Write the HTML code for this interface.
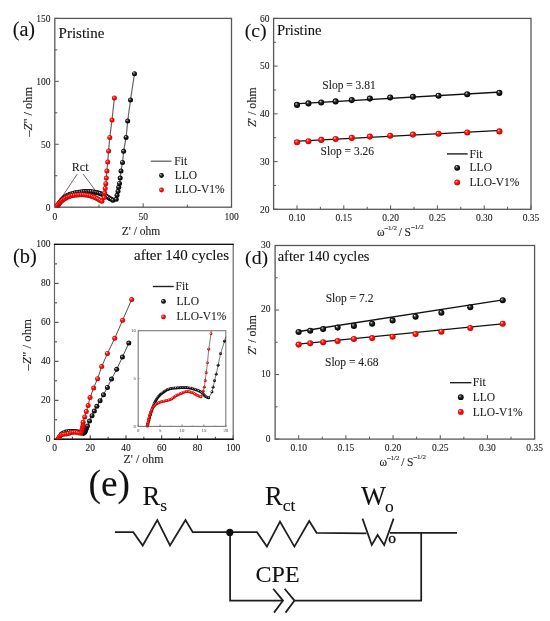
<!DOCTYPE html><html><head><meta charset="utf-8"><style>html,body{margin:0;padding:0;background:#fff;}svg{display:block;will-change:transform;}</style></head><body>
<svg width="550" height="621" viewBox="0 0 550 621" style='font-family:"Liberation Serif", serif'>
<defs>
<radialGradient id="gb" cx="0.5" cy="0.5" r="0.55" fx="0.33" fy="0.3">
<stop offset="0" stop-color="#f0f0f0"/><stop offset="0.16" stop-color="#909090"/><stop offset="0.4" stop-color="#2a2a2a"/><stop offset="0.75" stop-color="#080808"/><stop offset="1" stop-color="#000"/></radialGradient>
<radialGradient id="gr" cx="0.5" cy="0.5" r="0.55" fx="0.33" fy="0.3">
<stop offset="0" stop-color="#fff4f0"/><stop offset="0.16" stop-color="#ff8a80"/><stop offset="0.4" stop-color="#ff1a10"/><stop offset="0.75" stop-color="#e80000"/><stop offset="1" stop-color="#b00000"/></radialGradient>
</defs>
<rect width="550" height="621" fill="#fff"/>
<line x1="54.8" y1="207.2" x2="54.8" y2="203.2" stroke="#585858" stroke-width="1.0" />
<text x="54.8" y="219.5" font-size="9.5" text-anchor="middle" fill="#222" stroke="#222" stroke-width="0.1" >0</text>
<line x1="143.15" y1="207.2" x2="143.15" y2="203.2" stroke="#585858" stroke-width="1.0" />
<text x="143.15" y="219.5" font-size="9.5" text-anchor="middle" fill="#222" stroke="#222" stroke-width="0.1" >50</text>
<line x1="231.5" y1="207.2" x2="231.5" y2="203.2" stroke="#585858" stroke-width="1.0" />
<text x="231.5" y="219.5" font-size="9.5" text-anchor="middle" fill="#222" stroke="#222" stroke-width="0.1" >100</text>
<line x1="98.97" y1="207.2" x2="98.97" y2="204.7" stroke="#585858" stroke-width="1.0" />
<line x1="187.32" y1="207.2" x2="187.32" y2="204.7" stroke="#585858" stroke-width="1.0" />
<line x1="54.8" y1="207.2" x2="58.8" y2="207.2" stroke="#585858" stroke-width="1.0" />
<text x="50.5" y="210.5" font-size="9.5" text-anchor="end" fill="#222" stroke="#222" stroke-width="0.1" >0</text>
<line x1="54.8" y1="144.27" x2="58.8" y2="144.27" stroke="#585858" stroke-width="1.0" />
<text x="50.5" y="147.57" font-size="9.5" text-anchor="end" fill="#222" stroke="#222" stroke-width="0.1" >50</text>
<line x1="54.8" y1="81.33" x2="58.8" y2="81.33" stroke="#585858" stroke-width="1.0" />
<text x="50.5" y="84.63" font-size="9.5" text-anchor="end" fill="#222" stroke="#222" stroke-width="0.1" >100</text>
<line x1="54.8" y1="18.4" x2="58.8" y2="18.4" stroke="#585858" stroke-width="1.0" />
<text x="50.5" y="21.7" font-size="9.5" text-anchor="end" fill="#222" stroke="#222" stroke-width="0.1" >150</text>
<line x1="54.8" y1="175.73" x2="57.3" y2="175.73" stroke="#585858" stroke-width="1.0" />
<line x1="54.8" y1="112.8" x2="57.3" y2="112.8" stroke="#585858" stroke-width="1.0" />
<line x1="54.8" y1="49.87" x2="57.3" y2="49.87" stroke="#585858" stroke-width="1.0" />
<rect x="54.8" y="18.4" width="176.7" height="188.8" fill="none" stroke="#585858" stroke-width="1.3"/>
<clipPath id="ca"><rect x="54.8" y="18.4" width="176.7" height="188.8"/></clipPath>
<text x="12.7" y="36.2" font-size="20.2" text-anchor="start" fill="#111" stroke="#111" stroke-width="0.1" >(a)</text>
<text x="58.6" y="37.8" font-size="15" text-anchor="start" fill="#111" stroke="#111" stroke-width="0.1" >Pristine</text>
<text x="0" y="0" font-size="12.4" text-anchor="middle" fill="#222" stroke="#222" stroke-width="0.1" transform="translate(32,111.8) rotate(-90)">&#8211;<tspan font-style="italic">Z</tspan>&quot; / ohm</text>
<text x="141" y="234.8" font-size="11.5" text-anchor="middle" fill="#222" stroke="#222" stroke-width="0.1" >Z' / ohm</text>
<text x="80.2" y="170.5" font-size="12" text-anchor="middle" fill="#222" stroke="#222" stroke-width="0.1" >Rct</text>
<line x1="77.3" y1="174" x2="59" y2="201.4" stroke="#444" stroke-width="0.8" />
<line x1="83.2" y1="174" x2="96" y2="191.4" stroke="#444" stroke-width="0.8" />
<g clip-path="url(#ca)">
<polyline points="56.8,208 58.3,204.6 60.3,201.5 63,198.6 66.5,196 71,193.9 76.2,192.6 82,191.8 88,191.5 94,192 100,193.5 106,196 110,198.5 114.2,200.9 116.2,199.2 117,195.2 118,191.3 118.7,187.3 119.5,183.4 120.2,178.1 121,171 122.5,162.5 123.6,151.3 126.1,137.4 127.7,121 130.5,100 134.5,73.7" fill="none" stroke="#666" stroke-width="1.2" stroke-linejoin="round" />
<circle cx="56.8" cy="208" r="2.5" fill="url(#gb)"/>
<circle cx="57.49" cy="206.34" r="2.5" fill="url(#gb)"/>
<circle cx="58.25" cy="204.7" r="2.5" fill="url(#gb)"/>
<circle cx="59.15" cy="203.15" r="2.5" fill="url(#gb)"/>
<circle cx="60.17" cy="201.67" r="2.5" fill="url(#gb)"/>
<circle cx="61.32" cy="200.28" r="2.5" fill="url(#gb)"/>
<circle cx="62.57" cy="198.99" r="2.5" fill="url(#gb)"/>
<circle cx="63.93" cy="197.81" r="2.5" fill="url(#gb)"/>
<circle cx="65.37" cy="196.73" r="2.5" fill="url(#gb)"/>
<circle cx="66.9" cy="195.78" r="2.5" fill="url(#gb)"/>
<circle cx="68.49" cy="194.94" r="2.5" fill="url(#gb)"/>
<circle cx="70.14" cy="194.22" r="2.5" fill="url(#gb)"/>
<circle cx="71.84" cy="193.63" r="2.5" fill="url(#gb)"/>
<circle cx="73.57" cy="193.16" r="2.5" fill="url(#gb)"/>
<circle cx="75.33" cy="192.77" r="2.5" fill="url(#gb)"/>
<circle cx="77.1" cy="192.44" r="2.5" fill="url(#gb)"/>
<circle cx="78.88" cy="192.16" r="2.5" fill="url(#gb)"/>
<circle cx="80.67" cy="191.94" r="2.5" fill="url(#gb)"/>
<circle cx="82.46" cy="191.76" r="2.5" fill="url(#gb)"/>
<circle cx="84.25" cy="191.62" r="2.5" fill="url(#gb)"/>
<circle cx="86.05" cy="191.52" r="2.5" fill="url(#gb)"/>
<circle cx="87.85" cy="191.5" r="2.5" fill="url(#gb)"/>
<circle cx="89.65" cy="191.55" r="2.5" fill="url(#gb)"/>
<circle cx="91.44" cy="191.68" r="2.5" fill="url(#gb)"/>
<circle cx="93.23" cy="191.88" r="2.5" fill="url(#gb)"/>
<circle cx="95.01" cy="192.18" r="2.5" fill="url(#gb)"/>
<circle cx="96.76" cy="192.57" r="2.5" fill="url(#gb)"/>
<circle cx="98.5" cy="193.04" r="2.5" fill="url(#gb)"/>
<circle cx="100.22" cy="193.58" r="2.5" fill="url(#gb)"/>
<circle cx="101.91" cy="194.2" r="2.5" fill="url(#gb)"/>
<circle cx="103.57" cy="194.88" r="2.5" fill="url(#gb)"/>
<circle cx="105.21" cy="195.62" r="2.5" fill="url(#gb)"/>
<circle cx="106.82" cy="196.44" r="2.5" fill="url(#gb)"/>
<circle cx="108.33" cy="197.41" r="2.5" fill="url(#gb)"/>
<circle cx="109.84" cy="198.4" r="2.5" fill="url(#gb)"/>
<circle cx="111.39" cy="199.31" r="2.5" fill="url(#gb)"/>
<circle cx="112.95" cy="200.2" r="2.5" fill="url(#gb)"/>
<circle cx="116.2" cy="199.2" r="2.5" fill="url(#gb)"/>
<circle cx="117" cy="195.2" r="2.5" fill="url(#gb)"/>
<circle cx="118" cy="191.3" r="2.5" fill="url(#gb)"/>
<circle cx="118.7" cy="187.3" r="2.5" fill="url(#gb)"/>
<circle cx="119.5" cy="183.4" r="2.5" fill="url(#gb)"/>
<circle cx="120.2" cy="178.1" r="2.5" fill="url(#gb)"/>
<circle cx="121" cy="171" r="2.5" fill="url(#gb)"/>
<circle cx="122.5" cy="162.5" r="2.5" fill="url(#gb)"/>
<circle cx="123.6" cy="151.3" r="2.5" fill="url(#gb)"/>
<circle cx="126.1" cy="137.4" r="2.5" fill="url(#gb)"/>
<circle cx="127.7" cy="121" r="2.5" fill="url(#gb)"/>
<circle cx="130.5" cy="100" r="2.5" fill="url(#gb)"/>
<circle cx="134.5" cy="73.7" r="2.5" fill="url(#gb)"/>
<polyline points="55.5,207.8 57.5,205.2 59.5,203 62,200.5 65.5,198.2 69.5,196.4 74,195.3 80,194.8 86,195 91,196 96,198 100,200.3 102.4,201.4 104.1,197.5 104.7,193 105.2,188.5 105.8,183.7 106.3,178.1 106.9,171 107.7,162 108.6,150.9 109.8,137.4 112,120 114.4,98" fill="none" stroke="#666" stroke-width="1.2" stroke-linejoin="round" />
<circle cx="55.5" cy="207.8" r="2.5" fill="url(#gr)"/>
<circle cx="56.58" cy="206.36" r="2.5" fill="url(#gr)"/>
<circle cx="57.71" cy="204.96" r="2.5" fill="url(#gr)"/>
<circle cx="58.91" cy="203.62" r="2.5" fill="url(#gr)"/>
<circle cx="60.14" cy="202.31" r="2.5" fill="url(#gr)"/>
<circle cx="61.4" cy="201.02" r="2.5" fill="url(#gr)"/>
<circle cx="62.8" cy="199.89" r="2.5" fill="url(#gr)"/>
<circle cx="64.3" cy="198.9" r="2.5" fill="url(#gr)"/>
<circle cx="65.87" cy="198.01" r="2.5" fill="url(#gr)"/>
<circle cx="67.48" cy="197.21" r="2.5" fill="url(#gr)"/>
<circle cx="69.14" cy="196.53" r="2.5" fill="url(#gr)"/>
<circle cx="70.86" cy="195.97" r="2.5" fill="url(#gr)"/>
<circle cx="72.61" cy="195.55" r="2.5" fill="url(#gr)"/>
<circle cx="74.38" cy="195.25" r="2.5" fill="url(#gr)"/>
<circle cx="76.17" cy="195.04" r="2.5" fill="url(#gr)"/>
<circle cx="77.96" cy="194.89" r="2.5" fill="url(#gr)"/>
<circle cx="79.76" cy="194.81" r="2.5" fill="url(#gr)"/>
<circle cx="81.56" cy="194.78" r="2.5" fill="url(#gr)"/>
<circle cx="83.36" cy="194.82" r="2.5" fill="url(#gr)"/>
<circle cx="85.16" cy="194.92" r="2.5" fill="url(#gr)"/>
<circle cx="86.94" cy="195.12" r="2.5" fill="url(#gr)"/>
<circle cx="88.72" cy="195.42" r="2.5" fill="url(#gr)"/>
<circle cx="90.47" cy="195.85" r="2.5" fill="url(#gr)"/>
<circle cx="92.18" cy="196.39" r="2.5" fill="url(#gr)"/>
<circle cx="93.86" cy="197.04" r="2.5" fill="url(#gr)"/>
<circle cx="95.51" cy="197.77" r="2.5" fill="url(#gr)"/>
<circle cx="97.11" cy="198.59" r="2.5" fill="url(#gr)"/>
<circle cx="98.65" cy="199.51" r="2.5" fill="url(#gr)"/>
<circle cx="100.21" cy="200.41" r="2.5" fill="url(#gr)"/>
<circle cx="101.85" cy="201.16" r="2.5" fill="url(#gr)"/>
<circle cx="104.1" cy="197.5" r="2.5" fill="url(#gr)"/>
<circle cx="104.7" cy="193" r="2.5" fill="url(#gr)"/>
<circle cx="105.2" cy="188.5" r="2.5" fill="url(#gr)"/>
<circle cx="105.8" cy="183.7" r="2.5" fill="url(#gr)"/>
<circle cx="106.3" cy="178.1" r="2.5" fill="url(#gr)"/>
<circle cx="106.9" cy="171" r="2.5" fill="url(#gr)"/>
<circle cx="107.7" cy="162" r="2.5" fill="url(#gr)"/>
<circle cx="108.6" cy="150.9" r="2.5" fill="url(#gr)"/>
<circle cx="109.8" cy="137.4" r="2.5" fill="url(#gr)"/>
<circle cx="112" cy="120" r="2.5" fill="url(#gr)"/>
<circle cx="114.4" cy="98" r="2.5" fill="url(#gr)"/>
</g>
<line x1="150.7" y1="161.2" x2="171.5" y2="161.2" stroke="#555" stroke-width="1.2" />
<text x="174.3" y="165" font-size="11.5" text-anchor="start" fill="#222" stroke="#222" stroke-width="0.1" >Fit</text>
<circle cx="161.5" cy="175.5" r="2.4" fill="url(#gb)"/>
<text x="174.8" y="179" font-size="11.5" text-anchor="start" fill="#222" stroke="#222" stroke-width="0.1" >LLO</text>
<circle cx="161.5" cy="190" r="2.4" fill="url(#gr)"/>
<text x="174.8" y="193.3" font-size="11.5" text-anchor="start" fill="#222" stroke="#222" stroke-width="0.1" >LLO-V1%</text>
<line x1="54.5" y1="439.3" x2="54.5" y2="435.3" stroke="#333" stroke-width="1.0" />
<text x="54.5" y="450.7" font-size="9.5" text-anchor="middle" fill="#222" stroke="#222" stroke-width="0.1" >0</text>
<line x1="90.24" y1="439.3" x2="90.24" y2="435.3" stroke="#333" stroke-width="1.0" />
<text x="90.24" y="450.7" font-size="9.5" text-anchor="middle" fill="#222" stroke="#222" stroke-width="0.1" >20</text>
<line x1="125.98" y1="439.3" x2="125.98" y2="435.3" stroke="#333" stroke-width="1.0" />
<text x="125.98" y="450.7" font-size="9.5" text-anchor="middle" fill="#222" stroke="#222" stroke-width="0.1" >40</text>
<line x1="161.72" y1="439.3" x2="161.72" y2="435.3" stroke="#333" stroke-width="1.0" />
<text x="161.72" y="450.7" font-size="9.5" text-anchor="middle" fill="#222" stroke="#222" stroke-width="0.1" >60</text>
<line x1="197.46" y1="439.3" x2="197.46" y2="435.3" stroke="#333" stroke-width="1.0" />
<text x="197.46" y="450.7" font-size="9.5" text-anchor="middle" fill="#222" stroke="#222" stroke-width="0.1" >80</text>
<line x1="233.2" y1="439.3" x2="233.2" y2="435.3" stroke="#333" stroke-width="1.0" />
<text x="233.2" y="450.7" font-size="9.5" text-anchor="middle" fill="#222" stroke="#222" stroke-width="0.1" >100</text>
<line x1="72.37" y1="439.3" x2="72.37" y2="436.8" stroke="#333" stroke-width="1.0" />
<line x1="108.11" y1="439.3" x2="108.11" y2="436.8" stroke="#333" stroke-width="1.0" />
<line x1="143.85" y1="439.3" x2="143.85" y2="436.8" stroke="#333" stroke-width="1.0" />
<line x1="179.59" y1="439.3" x2="179.59" y2="436.8" stroke="#333" stroke-width="1.0" />
<line x1="215.33" y1="439.3" x2="215.33" y2="436.8" stroke="#333" stroke-width="1.0" />
<line x1="54.5" y1="439.3" x2="58.5" y2="439.3" stroke="#333" stroke-width="1.0" />
<text x="50.5" y="441.9" font-size="9.5" text-anchor="end" fill="#222" stroke="#222" stroke-width="0.1" >0</text>
<line x1="54.5" y1="400.32" x2="58.5" y2="400.32" stroke="#333" stroke-width="1.0" />
<text x="50.5" y="402.92" font-size="9.5" text-anchor="end" fill="#222" stroke="#222" stroke-width="0.1" >20</text>
<line x1="54.5" y1="361.34" x2="58.5" y2="361.34" stroke="#333" stroke-width="1.0" />
<text x="50.5" y="363.94" font-size="9.5" text-anchor="end" fill="#222" stroke="#222" stroke-width="0.1" >40</text>
<line x1="54.5" y1="322.36" x2="58.5" y2="322.36" stroke="#333" stroke-width="1.0" />
<text x="50.5" y="324.96" font-size="9.5" text-anchor="end" fill="#222" stroke="#222" stroke-width="0.1" >60</text>
<line x1="54.5" y1="283.38" x2="58.5" y2="283.38" stroke="#333" stroke-width="1.0" />
<text x="50.5" y="285.98" font-size="9.5" text-anchor="end" fill="#222" stroke="#222" stroke-width="0.1" >80</text>
<line x1="54.5" y1="244.4" x2="58.5" y2="244.4" stroke="#333" stroke-width="1.0" />
<text x="50.5" y="247" font-size="9.5" text-anchor="end" fill="#222" stroke="#222" stroke-width="0.1" >100</text>
<line x1="54.5" y1="419.81" x2="57" y2="419.81" stroke="#333" stroke-width="1.0" />
<line x1="54.5" y1="380.83" x2="57" y2="380.83" stroke="#333" stroke-width="1.0" />
<line x1="54.5" y1="341.85" x2="57" y2="341.85" stroke="#333" stroke-width="1.0" />
<line x1="54.5" y1="302.87" x2="57" y2="302.87" stroke="#333" stroke-width="1.0" />
<line x1="54.5" y1="263.89" x2="57" y2="263.89" stroke="#333" stroke-width="1.0" />
<rect x="54.5" y="244.4" width="178.7" height="194.9" fill="none" stroke="#666" stroke-width="1.2"/>
<line x1="53.9" y1="244.4" x2="233.8" y2="244.4" stroke="#111" stroke-width="1.3" />
<line x1="53.9" y1="439.3" x2="233.8" y2="439.3" stroke="#111" stroke-width="1.5" />
<clipPath id="cb"><rect x="54.5" y="244.4" width="178.7" height="194.9"/></clipPath>
<text x="12.9" y="263" font-size="20.4" text-anchor="start" fill="#111" stroke="#111" stroke-width="0.1" >(b)</text>
<text x="229" y="260" font-size="15" text-anchor="end" fill="#111" stroke="#111" stroke-width="0.1" >after 140 cycles</text>
<text x="0" y="0" font-size="12.9" text-anchor="middle" fill="#222" stroke="#222" stroke-width="0.1" transform="translate(31.2,344.8) rotate(-90)">&#8211;<tspan font-style="italic">Z</tspan>&quot; / ohm</text>
<text x="143.5" y="463.3" font-size="11.9" text-anchor="middle" fill="#222" stroke="#222" stroke-width="0.1" >Z' / ohm</text>
<g clip-path="url(#cb)">
<polyline points="58.25,439.05 59.34,437.06 60.43,435.44 61.52,434.17 62.97,433.08 64.78,432.3 66.94,431.72 69.83,431.47 72.73,431.39 75.59,431.47 78.09,431.84 80.32,432.36 81.77,433.08 82.86,433.45 83.95,433.45 85.06,432.36 86.49,428.41 87.92,425.15 89.53,420.98 92.03,415.72 94.35,411.04 96.85,406.36 100.07,400.71 103.46,394.86 107.4,387.46 111.51,379.08 116.69,369.33 122.41,357.05 128.84,343.02" fill="none" stroke="#3a3a3a" stroke-width="0.9" stroke-linejoin="round" />
<circle cx="58.25" cy="439.05" r="2.4" fill="url(#gb)"/>
<circle cx="59.11" cy="437.46" r="2.4" fill="url(#gb)"/>
<circle cx="60.07" cy="435.94" r="2.4" fill="url(#gb)"/>
<circle cx="61.18" cy="434.52" r="2.4" fill="url(#gb)"/>
<circle cx="62.54" cy="433.35" r="2.4" fill="url(#gb)"/>
<circle cx="64.14" cy="432.54" r="2.4" fill="url(#gb)"/>
<circle cx="65.84" cy="431.96" r="2.4" fill="url(#gb)"/>
<circle cx="67.61" cy="431.63" r="2.4" fill="url(#gb)"/>
<circle cx="69.4" cy="431.49" r="2.4" fill="url(#gb)"/>
<circle cx="71.2" cy="431.41" r="2.4" fill="url(#gb)"/>
<circle cx="73" cy="431.39" r="2.4" fill="url(#gb)"/>
<circle cx="74.8" cy="431.42" r="2.4" fill="url(#gb)"/>
<circle cx="76.59" cy="431.58" r="2.4" fill="url(#gb)"/>
<circle cx="78.37" cy="431.89" r="2.4" fill="url(#gb)"/>
<circle cx="80.12" cy="432.3" r="2.4" fill="url(#gb)"/>
<circle cx="81.74" cy="433.07" r="2.4" fill="url(#gb)"/>
<circle cx="83.47" cy="433.55" r="2.4" fill="url(#gb)"/>
<circle cx="84.91" cy="432.62" r="2.4" fill="url(#gb)"/>
<circle cx="85.6" cy="430.96" r="2.4" fill="url(#gb)"/>
<circle cx="86.18" cy="429.26" r="2.4" fill="url(#gb)"/>
<circle cx="86.83" cy="427.58" r="2.4" fill="url(#gb)"/>
<circle cx="87.56" cy="425.93" r="2.4" fill="url(#gb)"/>
<circle cx="89.53" cy="420.98" r="2.5" fill="url(#gb)"/>
<circle cx="92.03" cy="415.72" r="2.5" fill="url(#gb)"/>
<circle cx="94.35" cy="411.04" r="2.5" fill="url(#gb)"/>
<circle cx="96.85" cy="406.36" r="2.5" fill="url(#gb)"/>
<circle cx="100.07" cy="400.71" r="2.5" fill="url(#gb)"/>
<circle cx="103.46" cy="394.86" r="2.5" fill="url(#gb)"/>
<circle cx="107.4" cy="387.46" r="2.5" fill="url(#gb)"/>
<circle cx="111.51" cy="379.08" r="2.5" fill="url(#gb)"/>
<circle cx="116.69" cy="369.33" r="2.5" fill="url(#gb)"/>
<circle cx="122.41" cy="357.05" r="2.5" fill="url(#gb)"/>
<circle cx="128.84" cy="343.02" r="2.5" fill="url(#gb)"/>
<polyline points="58.25,439.22 58.97,437.43 59.68,436.34 60.75,435.27 62.54,434.54 64.78,434.17 67.67,433.82 69.83,433.08 72.01,432.56 74.16,432.19 76.3,432.36 78.45,432.91 79.96,433.28 81.05,432.91 81.84,430.2 82.56,426.96 83.27,423.71 83.09,422.15 84.7,416.89 86.31,411.62 88.1,405.39 90.06,397.59 93.64,388.04 97.57,378.69 101.68,366.6 107.4,353.54 114.72,338.34 122.58,320.22 131.7,299.56" fill="none" stroke="#3a3a3a" stroke-width="0.9" stroke-linejoin="round" />
<circle cx="58.25" cy="439.22" r="2.4" fill="url(#gr)"/>
<circle cx="58.91" cy="437.55" r="2.4" fill="url(#gr)"/>
<circle cx="59.91" cy="436.06" r="2.4" fill="url(#gr)"/>
<circle cx="61.32" cy="434.97" r="2.4" fill="url(#gr)"/>
<circle cx="63.03" cy="434.43" r="2.4" fill="url(#gr)"/>
<circle cx="64.81" cy="434.17" r="2.4" fill="url(#gr)"/>
<circle cx="66.6" cy="433.98" r="2.4" fill="url(#gr)"/>
<circle cx="68.36" cy="433.62" r="2.4" fill="url(#gr)"/>
<circle cx="70.06" cy="433.02" r="2.4" fill="url(#gr)"/>
<circle cx="71.81" cy="432.6" r="2.4" fill="url(#gr)"/>
<circle cx="73.57" cy="432.25" r="2.4" fill="url(#gr)"/>
<circle cx="75.37" cy="432.23" r="2.4" fill="url(#gr)"/>
<circle cx="77.14" cy="432.55" r="2.4" fill="url(#gr)"/>
<circle cx="78.87" cy="433.03" r="2.4" fill="url(#gr)"/>
<circle cx="80.63" cy="433.26" r="2.4" fill="url(#gr)"/>
<circle cx="81.47" cy="431.75" r="2.4" fill="url(#gr)"/>
<circle cx="81.89" cy="430" r="2.4" fill="url(#gr)"/>
<circle cx="82.28" cy="428.24" r="2.4" fill="url(#gr)"/>
<circle cx="82.66" cy="426.48" r="2.4" fill="url(#gr)"/>
<circle cx="83.05" cy="424.72" r="2.4" fill="url(#gr)"/>
<circle cx="83.09" cy="422.15" r="2.5" fill="url(#gr)"/>
<circle cx="84.7" cy="416.89" r="2.5" fill="url(#gr)"/>
<circle cx="86.31" cy="411.62" r="2.5" fill="url(#gr)"/>
<circle cx="88.1" cy="405.39" r="2.5" fill="url(#gr)"/>
<circle cx="90.06" cy="397.59" r="2.5" fill="url(#gr)"/>
<circle cx="93.64" cy="388.04" r="2.5" fill="url(#gr)"/>
<circle cx="97.57" cy="378.69" r="2.5" fill="url(#gr)"/>
<circle cx="101.68" cy="366.6" r="2.5" fill="url(#gr)"/>
<circle cx="107.4" cy="353.54" r="2.5" fill="url(#gr)"/>
<circle cx="114.72" cy="338.34" r="2.5" fill="url(#gr)"/>
<circle cx="122.58" cy="320.22" r="2.5" fill="url(#gr)"/>
<circle cx="131.7" cy="299.56" r="2.5" fill="url(#gr)"/>
</g>
<rect x="138.2" y="330.7" width="87.6" height="95.7" fill="#fff" stroke="none"/>
<line x1="138.2" y1="426.4" x2="138.2" y2="424.6" stroke="#555" stroke-width="0.8" />
<text x="138.2" y="432.3" font-size="4.8" text-anchor="middle" fill="#777" stroke="#777" stroke-width="0.1" >0</text>
<line x1="160.1" y1="426.4" x2="160.1" y2="424.6" stroke="#555" stroke-width="0.8" />
<text x="160.1" y="432.3" font-size="4.8" text-anchor="middle" fill="#777" stroke="#777" stroke-width="0.1" >5</text>
<line x1="182" y1="426.4" x2="182" y2="424.6" stroke="#555" stroke-width="0.8" />
<text x="182" y="432.3" font-size="4.8" text-anchor="middle" fill="#777" stroke="#777" stroke-width="0.1" >10</text>
<line x1="203.9" y1="426.4" x2="203.9" y2="424.6" stroke="#555" stroke-width="0.8" />
<text x="203.9" y="432.3" font-size="4.8" text-anchor="middle" fill="#777" stroke="#777" stroke-width="0.1" >15</text>
<line x1="225.8" y1="426.4" x2="225.8" y2="424.6" stroke="#555" stroke-width="0.8" />
<text x="225.8" y="432.3" font-size="4.8" text-anchor="middle" fill="#777" stroke="#777" stroke-width="0.1" >20</text>
<line x1="149.15" y1="426.4" x2="149.15" y2="425.4" stroke="#777" stroke-width="0.7" />
<line x1="171.05" y1="426.4" x2="171.05" y2="425.4" stroke="#777" stroke-width="0.7" />
<line x1="192.95" y1="426.4" x2="192.95" y2="425.4" stroke="#777" stroke-width="0.7" />
<line x1="214.85" y1="426.4" x2="214.85" y2="425.4" stroke="#777" stroke-width="0.7" />
<line x1="138.2" y1="426.4" x2="139.7" y2="426.4" stroke="#7a7a7a" stroke-width="0.7" />
<text x="136" y="428" font-size="4.8" text-anchor="end" fill="#777" stroke="#777" stroke-width="0.1" >0</text>
<line x1="138.2" y1="378.55" x2="139.7" y2="378.55" stroke="#7a7a7a" stroke-width="0.7" />
<text x="136" y="380.15" font-size="4.8" text-anchor="end" fill="#777" stroke="#777" stroke-width="0.1" >5</text>
<line x1="138.2" y1="330.7" x2="139.7" y2="330.7" stroke="#7a7a7a" stroke-width="0.7" />
<text x="136" y="332.3" font-size="4.8" text-anchor="end" fill="#777" stroke="#777" stroke-width="0.1" >10</text>
<rect x="138.2" y="330.7" width="87.6" height="95.7" fill="none" stroke="#7a7a7a" stroke-width="1.1"/>
<polyline points="147.4,425.16 150.07,415.39 152.74,407.45 155.41,401.23 158.96,395.87 163.38,392.04 168.68,389.17 175.78,387.93 182.88,387.55 189.88,387.93 196.02,389.75 201.49,392.33 205.04,395.87 207.71,397.69 208.94,397.69 211.96,391.95 213.1,387.16 214.54,380.75 216.16,374.15 218.14,365.25 220.54,353.67 224.49,341.32 225.8,336.73" fill="none" stroke="#444" stroke-width="0.7" stroke-linejoin="round" />
<circle cx="147.4" cy="425.16" r="1.5" fill="url(#gb)"/>
<circle cx="147.84" cy="423.51" r="1.5" fill="url(#gb)"/>
<circle cx="148.27" cy="421.87" r="1.5" fill="url(#gb)"/>
<circle cx="148.71" cy="420.23" r="1.5" fill="url(#gb)"/>
<circle cx="149.16" cy="418.59" r="1.5" fill="url(#gb)"/>
<circle cx="149.62" cy="416.95" r="1.5" fill="url(#gb)"/>
<circle cx="150.09" cy="415.32" r="1.5" fill="url(#gb)"/>
<circle cx="150.6" cy="413.69" r="1.5" fill="url(#gb)"/>
<circle cx="151.12" cy="412.08" r="1.5" fill="url(#gb)"/>
<circle cx="151.66" cy="410.47" r="1.5" fill="url(#gb)"/>
<circle cx="152.22" cy="408.86" r="1.5" fill="url(#gb)"/>
<circle cx="152.81" cy="407.27" r="1.5" fill="url(#gb)"/>
<circle cx="153.42" cy="405.68" r="1.5" fill="url(#gb)"/>
<circle cx="154.06" cy="404.1" r="1.5" fill="url(#gb)"/>
<circle cx="154.75" cy="402.55" r="1.5" fill="url(#gb)"/>
<circle cx="155.52" cy="401.04" r="1.5" fill="url(#gb)"/>
<circle cx="156.36" cy="399.56" r="1.5" fill="url(#gb)"/>
<circle cx="157.27" cy="398.12" r="1.5" fill="url(#gb)"/>
<circle cx="158.26" cy="396.74" r="1.5" fill="url(#gb)"/>
<circle cx="159.35" cy="395.44" r="1.5" fill="url(#gb)"/>
<circle cx="160.56" cy="394.25" r="1.5" fill="url(#gb)"/>
<circle cx="161.86" cy="393.15" r="1.5" fill="url(#gb)"/>
<circle cx="163.24" cy="392.15" r="1.5" fill="url(#gb)"/>
<circle cx="164.64" cy="391.2" r="1.5" fill="url(#gb)"/>
<circle cx="166.1" cy="390.32" r="1.5" fill="url(#gb)"/>
<circle cx="167.63" cy="389.57" r="1.5" fill="url(#gb)"/>
<circle cx="169.23" cy="389.02" r="1.5" fill="url(#gb)"/>
<circle cx="170.88" cy="388.61" r="1.5" fill="url(#gb)"/>
<circle cx="172.56" cy="388.33" r="1.5" fill="url(#gb)"/>
<circle cx="174.24" cy="388.11" r="1.5" fill="url(#gb)"/>
<circle cx="175.93" cy="387.91" r="1.5" fill="url(#gb)"/>
<circle cx="177.62" cy="387.75" r="1.5" fill="url(#gb)"/>
<circle cx="179.32" cy="387.64" r="1.5" fill="url(#gb)"/>
<circle cx="181.02" cy="387.57" r="1.5" fill="url(#gb)"/>
<circle cx="182.72" cy="387.55" r="1.5" fill="url(#gb)"/>
<circle cx="184.42" cy="387.55" r="1.5" fill="url(#gb)"/>
<circle cx="186.12" cy="387.59" r="1.5" fill="url(#gb)"/>
<circle cx="187.81" cy="387.68" r="1.5" fill="url(#gb)"/>
<circle cx="189.5" cy="387.88" r="1.5" fill="url(#gb)"/>
<circle cx="191.17" cy="388.19" r="1.5" fill="url(#gb)"/>
<circle cx="192.81" cy="388.63" r="1.5" fill="url(#gb)"/>
<circle cx="194.43" cy="389.16" r="1.5" fill="url(#gb)"/>
<circle cx="196.02" cy="389.75" r="1.5" fill="url(#gb)"/>
<circle cx="197.61" cy="390.37" r="1.5" fill="url(#gb)"/>
<circle cx="199.16" cy="391.05" r="1.5" fill="url(#gb)"/>
<circle cx="200.68" cy="391.83" r="1.5" fill="url(#gb)"/>
<circle cx="202.08" cy="392.79" r="1.5" fill="url(#gb)"/>
<circle cx="203.28" cy="393.98" r="1.5" fill="url(#gb)"/>
<circle cx="204.41" cy="395.25" r="1.5" fill="url(#gb)"/>
<circle cx="205.67" cy="396.39" r="1.5" fill="url(#gb)"/>
<circle cx="207.07" cy="397.35" r="1.5" fill="url(#gb)"/>
<circle cx="208.66" cy="397.76" r="1.5" fill="url(#gb)"/>
<circle cx="211.96" cy="391.95" r="1.45" fill="url(#gb)"/>
<circle cx="213.1" cy="387.16" r="1.45" fill="url(#gb)"/>
<circle cx="214.54" cy="380.75" r="1.45" fill="url(#gb)"/>
<circle cx="216.16" cy="374.15" r="1.45" fill="url(#gb)"/>
<circle cx="218.14" cy="365.25" r="1.45" fill="url(#gb)"/>
<circle cx="220.54" cy="353.67" r="1.45" fill="url(#gb)"/>
<circle cx="224.49" cy="341.32" r="1.45" fill="url(#gb)"/>
<polyline points="147.4,426.02 149.15,417.21 150.9,411.85 153.53,406.59 157.91,403.05 163.38,401.23 170.48,399.51 175.78,395.87 181.12,393.29 186.38,391.47 191.64,392.33 196.89,395.01 200.62,396.83 201.49,396.25 203.24,391.28 204.34,387.16 205.21,380.75 206.22,372.81 207.49,362.86 208.72,349.27 211,333.86 211.21,330.7" fill="none" stroke="#444" stroke-width="0.7" stroke-linejoin="round" />
<circle cx="147.4" cy="426.02" r="1.5" fill="url(#gr)"/>
<circle cx="147.71" cy="424.35" r="1.5" fill="url(#gr)"/>
<circle cx="148.03" cy="422.68" r="1.5" fill="url(#gr)"/>
<circle cx="148.35" cy="421.01" r="1.5" fill="url(#gr)"/>
<circle cx="148.68" cy="419.34" r="1.5" fill="url(#gr)"/>
<circle cx="149.04" cy="417.68" r="1.5" fill="url(#gr)"/>
<circle cx="149.46" cy="416.03" r="1.5" fill="url(#gr)"/>
<circle cx="149.94" cy="414.4" r="1.5" fill="url(#gr)"/>
<circle cx="150.52" cy="412.8" r="1.5" fill="url(#gr)"/>
<circle cx="151.16" cy="411.23" r="1.5" fill="url(#gr)"/>
<circle cx="151.81" cy="409.66" r="1.5" fill="url(#gr)"/>
<circle cx="152.54" cy="408.12" r="1.5" fill="url(#gr)"/>
<circle cx="153.46" cy="406.69" r="1.5" fill="url(#gr)"/>
<circle cx="154.6" cy="405.44" r="1.5" fill="url(#gr)"/>
<circle cx="155.9" cy="404.34" r="1.5" fill="url(#gr)"/>
<circle cx="157.31" cy="403.4" r="1.5" fill="url(#gr)"/>
<circle cx="158.82" cy="402.62" r="1.5" fill="url(#gr)"/>
<circle cx="160.42" cy="402.05" r="1.5" fill="url(#gr)"/>
<circle cx="162.06" cy="401.59" r="1.5" fill="url(#gr)"/>
<circle cx="163.7" cy="401.15" r="1.5" fill="url(#gr)"/>
<circle cx="165.36" cy="400.79" r="1.5" fill="url(#gr)"/>
<circle cx="167.03" cy="400.47" r="1.5" fill="url(#gr)"/>
<circle cx="168.69" cy="400.09" r="1.5" fill="url(#gr)"/>
<circle cx="170.3" cy="399.57" r="1.5" fill="url(#gr)"/>
<circle cx="171.8" cy="398.78" r="1.5" fill="url(#gr)"/>
<circle cx="173.18" cy="397.79" r="1.5" fill="url(#gr)"/>
<circle cx="174.52" cy="396.74" r="1.5" fill="url(#gr)"/>
<circle cx="175.93" cy="395.79" r="1.5" fill="url(#gr)"/>
<circle cx="177.42" cy="394.98" r="1.5" fill="url(#gr)"/>
<circle cx="178.95" cy="394.24" r="1.5" fill="url(#gr)"/>
<circle cx="180.51" cy="393.55" r="1.5" fill="url(#gr)"/>
<circle cx="182.07" cy="392.88" r="1.5" fill="url(#gr)"/>
<circle cx="183.63" cy="392.21" r="1.5" fill="url(#gr)"/>
<circle cx="185.25" cy="391.68" r="1.5" fill="url(#gr)"/>
<circle cx="186.92" cy="391.45" r="1.5" fill="url(#gr)"/>
<circle cx="188.62" cy="391.56" r="1.5" fill="url(#gr)"/>
<circle cx="190.28" cy="391.92" r="1.5" fill="url(#gr)"/>
<circle cx="191.9" cy="392.43" r="1.5" fill="url(#gr)"/>
<circle cx="193.45" cy="393.12" r="1.5" fill="url(#gr)"/>
<circle cx="194.94" cy="393.94" r="1.5" fill="url(#gr)"/>
<circle cx="196.43" cy="394.76" r="1.5" fill="url(#gr)"/>
<circle cx="197.94" cy="395.55" r="1.5" fill="url(#gr)"/>
<circle cx="199.44" cy="396.33" r="1.5" fill="url(#gr)"/>
<circle cx="201.03" cy="396.83" r="1.5" fill="url(#gr)"/>
<circle cx="203.24" cy="391.28" r="1.45" fill="url(#gr)"/>
<circle cx="204.34" cy="387.16" r="1.45" fill="url(#gr)"/>
<circle cx="205.21" cy="380.75" r="1.45" fill="url(#gr)"/>
<circle cx="206.22" cy="372.81" r="1.45" fill="url(#gr)"/>
<circle cx="207.49" cy="362.86" r="1.45" fill="url(#gr)"/>
<circle cx="208.72" cy="349.27" r="1.45" fill="url(#gr)"/>
<circle cx="211" cy="333.86" r="1.45" fill="url(#gr)"/>
<line x1="152.9" y1="286.5" x2="173.7" y2="286.5" stroke="#222" stroke-width="1.4" />
<text x="175.6" y="290" font-size="11.5" text-anchor="start" fill="#222" stroke="#222" stroke-width="0.1" >Fit</text>
<circle cx="163.5" cy="301.4" r="2.4" fill="url(#gb)"/>
<text x="176.6" y="304.7" font-size="11.5" text-anchor="start" fill="#222" stroke="#222" stroke-width="0.1" >LLO</text>
<circle cx="163.5" cy="316.9" r="2.4" fill="url(#gr)"/>
<text x="176.6" y="320.2" font-size="11.5" text-anchor="start" fill="#222" stroke="#222" stroke-width="0.1" >LLO-V1%</text>
<line x1="297" y1="209.3" x2="297" y2="205.3" stroke="#585858" stroke-width="1.0" />
<text x="297" y="220.8" font-size="9.5" text-anchor="middle" fill="#222" stroke="#222" stroke-width="0.1" >0.10</text>
<line x1="343.8" y1="209.3" x2="343.8" y2="205.3" stroke="#585858" stroke-width="1.0" />
<text x="343.8" y="220.8" font-size="9.5" text-anchor="middle" fill="#222" stroke="#222" stroke-width="0.1" >0.15</text>
<line x1="390.6" y1="209.3" x2="390.6" y2="205.3" stroke="#585858" stroke-width="1.0" />
<text x="390.6" y="220.8" font-size="9.5" text-anchor="middle" fill="#222" stroke="#222" stroke-width="0.1" >0.20</text>
<line x1="437.4" y1="209.3" x2="437.4" y2="205.3" stroke="#585858" stroke-width="1.0" />
<text x="437.4" y="220.8" font-size="9.5" text-anchor="middle" fill="#222" stroke="#222" stroke-width="0.1" >0.25</text>
<line x1="484.2" y1="209.3" x2="484.2" y2="205.3" stroke="#585858" stroke-width="1.0" />
<text x="484.2" y="220.8" font-size="9.5" text-anchor="middle" fill="#222" stroke="#222" stroke-width="0.1" >0.30</text>
<line x1="531" y1="209.3" x2="531" y2="205.3" stroke="#585858" stroke-width="1.0" />
<text x="531" y="220.8" font-size="9.5" text-anchor="middle" fill="#222" stroke="#222" stroke-width="0.1" >0.35</text>
<line x1="320.4" y1="209.3" x2="320.4" y2="206.8" stroke="#585858" stroke-width="1.0" />
<line x1="367.2" y1="209.3" x2="367.2" y2="206.8" stroke="#585858" stroke-width="1.0" />
<line x1="414" y1="209.3" x2="414" y2="206.8" stroke="#585858" stroke-width="1.0" />
<line x1="460.8" y1="209.3" x2="460.8" y2="206.8" stroke="#585858" stroke-width="1.0" />
<line x1="507.6" y1="209.3" x2="507.6" y2="206.8" stroke="#585858" stroke-width="1.0" />
<line x1="273.6" y1="209.3" x2="277.6" y2="209.3" stroke="#585858" stroke-width="1.0" />
<text x="269.5" y="212.6" font-size="9.5" text-anchor="end" fill="#222" stroke="#222" stroke-width="0.1" >20</text>
<line x1="273.6" y1="161.58" x2="277.6" y2="161.58" stroke="#585858" stroke-width="1.0" />
<text x="269.5" y="164.88" font-size="9.5" text-anchor="end" fill="#222" stroke="#222" stroke-width="0.1" >30</text>
<line x1="273.6" y1="113.85" x2="277.6" y2="113.85" stroke="#585858" stroke-width="1.0" />
<text x="269.5" y="117.15" font-size="9.5" text-anchor="end" fill="#222" stroke="#222" stroke-width="0.1" >40</text>
<line x1="273.6" y1="66.12" x2="277.6" y2="66.12" stroke="#585858" stroke-width="1.0" />
<text x="269.5" y="69.42" font-size="9.5" text-anchor="end" fill="#222" stroke="#222" stroke-width="0.1" >50</text>
<line x1="273.6" y1="18.4" x2="277.6" y2="18.4" stroke="#585858" stroke-width="1.0" />
<text x="269.5" y="21.7" font-size="9.5" text-anchor="end" fill="#222" stroke="#222" stroke-width="0.1" >60</text>
<line x1="273.6" y1="185.44" x2="276.1" y2="185.44" stroke="#585858" stroke-width="1.0" />
<line x1="273.6" y1="137.71" x2="276.1" y2="137.71" stroke="#585858" stroke-width="1.0" />
<line x1="273.6" y1="89.99" x2="276.1" y2="89.99" stroke="#585858" stroke-width="1.0" />
<line x1="273.6" y1="42.26" x2="276.1" y2="42.26" stroke="#585858" stroke-width="1.0" />
<rect x="273.6" y="18.4" width="257.4" height="190.9" fill="none" stroke="#585858" stroke-width="1.3"/>
<text x="244.7" y="37.2" font-size="19.8" text-anchor="start" fill="#111" stroke="#111" stroke-width="0.1" >(c)</text>
<text x="276.9" y="35.2" font-size="14.6" text-anchor="start" fill="#111" stroke="#111" stroke-width="0.1" >Pristine</text>
<text x="0" y="0" font-size="12" text-anchor="middle" fill="#222" stroke="#222" stroke-width="0.1" transform="translate(255.5,107.2) rotate(-90)"><tspan font-style="italic">Z</tspan>' / ohm</text>
<text x="377.1" y="236" font-size="11.5" text-anchor="start" fill="#222" stroke="#222" stroke-width="0.1" >&#969;</text>
<text x="384.6" y="229.7" font-size="7" text-anchor="start" fill="#222" stroke="#222" stroke-width="0.1" >&#8211;1/2</text>
<text x="398.8" y="236" font-size="11.5" text-anchor="start" fill="#222" stroke="#222" stroke-width="0.1" >/</text>
<text x="404.5" y="236" font-size="11.5" text-anchor="start" fill="#222" stroke="#222" stroke-width="0.1" >S</text>
<text x="411.2" y="228.8" font-size="7" text-anchor="start" fill="#222" stroke="#222" stroke-width="0.1" >&#8211;1/2</text>
<line x1="294" y1="103.91" x2="501.39" y2="92.01" stroke="#111" stroke-width="1.3" />
<circle cx="297" cy="104.9" r="3.05" fill="url(#gb)"/>
<circle cx="308.42" cy="103.4" r="3.05" fill="url(#gb)"/>
<circle cx="321.24" cy="102.5" r="3.05" fill="url(#gb)"/>
<circle cx="335.61" cy="101.4" r="3.05" fill="url(#gb)"/>
<circle cx="351.75" cy="100.1" r="3.05" fill="url(#gb)"/>
<circle cx="369.85" cy="98.6" r="3.05" fill="url(#gb)"/>
<circle cx="390.16" cy="97.5" r="3.05" fill="url(#gb)"/>
<circle cx="412.94" cy="96.8" r="3.05" fill="url(#gb)"/>
<circle cx="438.51" cy="95.7" r="3.05" fill="url(#gb)"/>
<circle cx="467.2" cy="94.2" r="3.05" fill="url(#gb)"/>
<circle cx="499.39" cy="92.9" r="3.05" fill="url(#gb)"/>
<line x1="294" y1="141.4" x2="501.39" y2="130.47" stroke="#111" stroke-width="1.3" />
<circle cx="297" cy="142.3" r="3.05" fill="url(#gr)"/>
<circle cx="308.42" cy="141.2" r="3.05" fill="url(#gr)"/>
<circle cx="321.24" cy="139.9" r="3.05" fill="url(#gr)"/>
<circle cx="335.61" cy="139" r="3.05" fill="url(#gr)"/>
<circle cx="351.75" cy="137.9" r="3.05" fill="url(#gr)"/>
<circle cx="369.85" cy="136.6" r="3.05" fill="url(#gr)"/>
<circle cx="390.16" cy="135.7" r="3.05" fill="url(#gr)"/>
<circle cx="412.94" cy="134.6" r="3.05" fill="url(#gr)"/>
<circle cx="438.51" cy="133.8" r="3.05" fill="url(#gr)"/>
<circle cx="467.2" cy="132.5" r="3.05" fill="url(#gr)"/>
<circle cx="499.39" cy="131.4" r="3.05" fill="url(#gr)"/>
<text x="322.3" y="88.5" font-size="11.5" text-anchor="start" fill="#222" stroke="#222" stroke-width="0.1" >Slop = 3.81</text>
<text x="320.6" y="155" font-size="11.5" text-anchor="start" fill="#222" stroke="#222" stroke-width="0.1" >Slop = 3.26</text>
<line x1="447" y1="153.9" x2="467.7" y2="153.9" stroke="#111" stroke-width="1.3" />
<text x="469.6" y="157.5" font-size="11.5" text-anchor="start" fill="#222" stroke="#222" stroke-width="0.1" >Fit</text>
<circle cx="457.2" cy="167.8" r="2.9" fill="url(#gb)"/>
<text x="469.6" y="171.4" font-size="11.5" text-anchor="start" fill="#222" stroke="#222" stroke-width="0.1" >LLO</text>
<circle cx="457.2" cy="182.4" r="2.9" fill="url(#gr)"/>
<text x="469.6" y="186.2" font-size="11.5" text-anchor="start" fill="#222" stroke="#222" stroke-width="0.1" >LLO-V1%</text>
<line x1="298.69" y1="439.1" x2="298.69" y2="435.1" stroke="#585858" stroke-width="1.0" />
<text x="298.69" y="451" font-size="9.5" text-anchor="middle" fill="#222" stroke="#222" stroke-width="0.1" >0.10</text>
<line x1="345.87" y1="439.1" x2="345.87" y2="435.1" stroke="#585858" stroke-width="1.0" />
<text x="345.87" y="451" font-size="9.5" text-anchor="middle" fill="#222" stroke="#222" stroke-width="0.1" >0.15</text>
<line x1="393.05" y1="439.1" x2="393.05" y2="435.1" stroke="#585858" stroke-width="1.0" />
<text x="393.05" y="451" font-size="9.5" text-anchor="middle" fill="#222" stroke="#222" stroke-width="0.1" >0.20</text>
<line x1="440.24" y1="439.1" x2="440.24" y2="435.1" stroke="#585858" stroke-width="1.0" />
<text x="440.24" y="451" font-size="9.5" text-anchor="middle" fill="#222" stroke="#222" stroke-width="0.1" >0.25</text>
<line x1="487.42" y1="439.1" x2="487.42" y2="435.1" stroke="#585858" stroke-width="1.0" />
<text x="487.42" y="451" font-size="9.5" text-anchor="middle" fill="#222" stroke="#222" stroke-width="0.1" >0.30</text>
<line x1="534.6" y1="439.1" x2="534.6" y2="435.1" stroke="#585858" stroke-width="1.0" />
<text x="534.6" y="451" font-size="9.5" text-anchor="middle" fill="#222" stroke="#222" stroke-width="0.1" >0.35</text>
<line x1="322.28" y1="439.1" x2="322.28" y2="436.6" stroke="#585858" stroke-width="1.0" />
<line x1="369.46" y1="439.1" x2="369.46" y2="436.6" stroke="#585858" stroke-width="1.0" />
<line x1="416.65" y1="439.1" x2="416.65" y2="436.6" stroke="#585858" stroke-width="1.0" />
<line x1="463.83" y1="439.1" x2="463.83" y2="436.6" stroke="#585858" stroke-width="1.0" />
<line x1="511.01" y1="439.1" x2="511.01" y2="436.6" stroke="#585858" stroke-width="1.0" />
<line x1="275.1" y1="439.1" x2="279.1" y2="439.1" stroke="#585858" stroke-width="1.0" />
<text x="270.5" y="441.5" font-size="9.5" text-anchor="end" fill="#222" stroke="#222" stroke-width="0.1" >0</text>
<line x1="275.1" y1="374.57" x2="279.1" y2="374.57" stroke="#585858" stroke-width="1.0" />
<text x="270.5" y="376.97" font-size="9.5" text-anchor="end" fill="#222" stroke="#222" stroke-width="0.1" >10</text>
<line x1="275.1" y1="310.03" x2="279.1" y2="310.03" stroke="#585858" stroke-width="1.0" />
<text x="270.5" y="312.43" font-size="9.5" text-anchor="end" fill="#222" stroke="#222" stroke-width="0.1" >20</text>
<line x1="275.1" y1="245.5" x2="279.1" y2="245.5" stroke="#585858" stroke-width="1.0" />
<text x="270.5" y="247.9" font-size="9.5" text-anchor="end" fill="#222" stroke="#222" stroke-width="0.1" >30</text>
<line x1="275.1" y1="406.83" x2="277.6" y2="406.83" stroke="#585858" stroke-width="1.0" />
<line x1="275.1" y1="342.3" x2="277.6" y2="342.3" stroke="#585858" stroke-width="1.0" />
<line x1="275.1" y1="277.77" x2="277.6" y2="277.77" stroke="#585858" stroke-width="1.0" />
<rect x="275.1" y="245.5" width="259.5" height="193.6" fill="none" stroke="#585858" stroke-width="1.3"/>
<text x="245.1" y="264.3" font-size="19.8" text-anchor="start" fill="#111" stroke="#111" stroke-width="0.1" >(d)</text>
<text x="277.7" y="260.5" font-size="14.5" text-anchor="start" fill="#111" stroke="#111" stroke-width="0.1" >after 140 cycles</text>
<text x="0" y="0" font-size="12" text-anchor="middle" fill="#222" stroke="#222" stroke-width="0.1" transform="translate(256.3,334.9) rotate(-90)"><tspan font-style="italic">Z</tspan>' / ohm</text>
<text x="379.5" y="466.2" font-size="11.5" text-anchor="start" fill="#222" stroke="#222" stroke-width="0.1" >&#969;</text>
<text x="387" y="459.9" font-size="7" text-anchor="start" fill="#222" stroke="#222" stroke-width="0.1" >&#8211;1/2</text>
<text x="401.2" y="466.2" font-size="11.5" text-anchor="start" fill="#222" stroke="#222" stroke-width="0.1" >/</text>
<text x="406.9" y="466.2" font-size="11.5" text-anchor="start" fill="#222" stroke="#222" stroke-width="0.1" >S</text>
<text x="413.6" y="459" font-size="7" text-anchor="start" fill="#222" stroke="#222" stroke-width="0.1" >&#8211;1/2</text>
<line x1="295.69" y1="331.99" x2="504.73" y2="299.7" stroke="#111" stroke-width="1.3" />
<circle cx="298.69" cy="332" r="3.05" fill="url(#gb)"/>
<circle cx="310.21" cy="330.7" r="3.05" fill="url(#gb)"/>
<circle cx="323.12" cy="329.1" r="3.05" fill="url(#gb)"/>
<circle cx="337.62" cy="327.6" r="3.05" fill="url(#gb)"/>
<circle cx="353.88" cy="325.9" r="3.05" fill="url(#gb)"/>
<circle cx="372.13" cy="323.7" r="3.05" fill="url(#gb)"/>
<circle cx="392.61" cy="320.4" r="3.05" fill="url(#gb)"/>
<circle cx="415.58" cy="316.7" r="3.05" fill="url(#gb)"/>
<circle cx="441.36" cy="312.8" r="3.05" fill="url(#gb)"/>
<circle cx="470.28" cy="307.3" r="3.05" fill="url(#gb)"/>
<circle cx="502.73" cy="300.3" r="3.05" fill="url(#gb)"/>
<line x1="295.69" y1="344.45" x2="504.73" y2="323.61" stroke="#111" stroke-width="1.3" />
<circle cx="298.69" cy="344.6" r="3.05" fill="url(#gr)"/>
<circle cx="310.21" cy="343.3" r="3.05" fill="url(#gr)"/>
<circle cx="323.12" cy="342.2" r="3.05" fill="url(#gr)"/>
<circle cx="337.62" cy="341.1" r="3.05" fill="url(#gr)"/>
<circle cx="353.88" cy="339" r="3.05" fill="url(#gr)"/>
<circle cx="372.13" cy="338.1" r="3.05" fill="url(#gr)"/>
<circle cx="392.61" cy="336.8" r="3.05" fill="url(#gr)"/>
<circle cx="415.58" cy="334.1" r="3.05" fill="url(#gr)"/>
<circle cx="441.36" cy="331.7" r="3.05" fill="url(#gr)"/>
<circle cx="470.28" cy="328" r="3.05" fill="url(#gr)"/>
<circle cx="502.73" cy="323.7" r="3.05" fill="url(#gr)"/>
<text x="325.7" y="301.5" font-size="11.5" text-anchor="start" fill="#222" stroke="#222" stroke-width="0.1" >Slop = 7.2</text>
<text x="325" y="365.6" font-size="11.5" text-anchor="start" fill="#222" stroke="#222" stroke-width="0.1" >Slop = 4.68</text>
<line x1="450" y1="382.7" x2="471.4" y2="382.7" stroke="#111" stroke-width="1.3" />
<text x="472.8" y="386.3" font-size="11.5" text-anchor="start" fill="#222" stroke="#222" stroke-width="0.1" >Fit</text>
<circle cx="460.8" cy="397.2" r="2.9" fill="url(#gb)"/>
<text x="472.8" y="400.8" font-size="11.5" text-anchor="start" fill="#222" stroke="#222" stroke-width="0.1" >LLO</text>
<circle cx="460.8" cy="411.9" r="2.9" fill="url(#gr)"/>
<text x="472.8" y="415.7" font-size="11.5" text-anchor="start" fill="#222" stroke="#222" stroke-width="0.1" >LLO-V1%</text>
<text x="88.6" y="496.3" font-size="37.3" text-anchor="start" fill="#111" stroke="#111" stroke-width="0.1" >(e)</text>
<g fill="none" stroke="#1e1e1e" stroke-width="1.75" stroke-linejoin="miter" stroke-linecap="butt">
<polyline points="114.9,532.2 133.3,532.2 142.7,545.5 157.3,520 170,545.5 185.5,520 192.7,532.2 257,532.2 266.9,546.6 280,521.5 294.4,546.6 309.2,521 316.6,532.8 366.4,533.4"/>
<polyline points="362.5,518.6 371.8,545.0 377.6,535.0 384.2,545.0 393.6,518.6"/>
<polyline points="389.8,532.9 457,532.9"/>
<polyline points="421.2,532.9 421.2,600.6 294.5,600.6"/>
<polyline points="230.1,532.4 230.1,600.6 283,600.6"/>
<polyline points="273.2,588.8 283,600.6 274,612.6"/>
<polyline points="284.6,588.8 294.5,600.6 285.5,612.6"/>
</g>
<circle cx="229.8" cy="532.4" r="3.6" fill="#111"/>
<text x="142.6" y="504.7" font-size="26.5" text-anchor="start" fill="#111" stroke="#111" stroke-width="0.1" >R<tspan font-size="17.5" dy="5.8">s</tspan></text>
<text x="265.1" y="504.7" font-size="26.5" text-anchor="start" fill="#111" stroke="#111" stroke-width="0.1" >R<tspan font-size="17.5" dy="6.2">ct</tspan></text>
<text x="361" y="505" font-size="26.5" text-anchor="start" fill="#111" stroke="#111" stroke-width="0.1" >W<tspan font-size="17.5" dx="-1" dy="6.5">o</tspan></text>
<text x="388.3" y="542.9" font-size="15.5" fill="#111" stroke="#111" stroke-width="0.35">o</text>
<text x="255.6" y="582" font-size="24" text-anchor="start" fill="#111" stroke="#111" stroke-width="0.1" >CPE</text>
</svg></body></html>
